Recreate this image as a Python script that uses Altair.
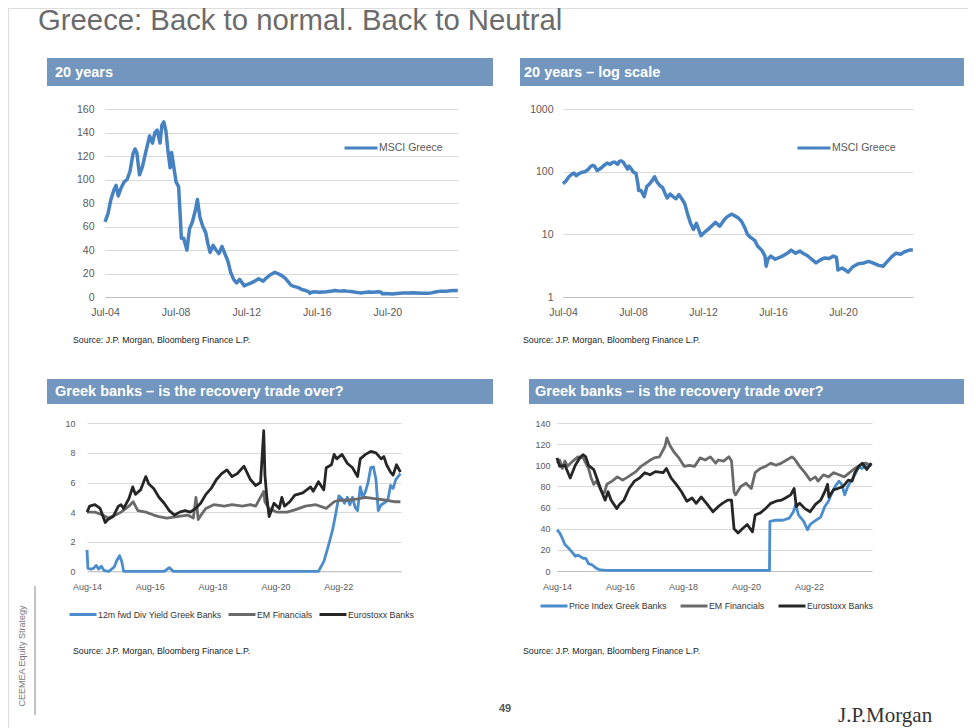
import altair as alt
import pandas as pd

# ---------------- data ----------------
msci_dates = [
    "2004-07-01", "2004-09-01", "2004-11-01", "2005-01-01", "2005-02-15", "2005-04-01", "2005-06-01",
    "2005-08-01", "2005-10-01", "2005-12-01", "2006-02-01", "2006-03-15", "2006-04-20", "2006-06-15",
    "2006-08-15", "2006-10-15", "2006-11-25", "2007-01-10", "2007-03-10", "2007-05-01", "2007-06-15",
    "2007-08-15", "2007-09-20", "2007-10-31", "2007-12-15", "2008-01-20", "2008-03-10", "2008-04-10",
    "2008-05-20", "2008-07-10", "2008-09-01", "2008-10-10", "2008-10-28", "2008-12-15", "2009-02-20",
    "2009-04-15", "2009-06-15", "2009-08-15", "2009-09-25", "2009-11-15", "2010-01-15", "2010-03-15",
    "2010-05-01", "2010-06-15", "2010-08-15", "2010-10-15", "2010-12-15", "2011-02-15", "2011-04-15",
    "2011-06-15", "2011-08-15", "2011-10-15", "2011-12-15", "2012-02-15", "2012-05-20", "2012-07-15",
    "2012-10-15", "2013-01-15", "2013-03-15", "2013-06-15", "2013-09-15", "2013-11-15", "2014-02-15",
    "2014-04-15", "2014-07-15", "2014-09-15", "2014-11-15", "2015-01-15", "2015-03-15", "2015-06-15",
    "2015-08-15", "2015-11-15", "2016-01-15", "2016-02-10", "2016-03-15", "2016-05-15", "2016-08-15",
    "2016-11-15", "2017-01-15", "2017-05-15", "2017-07-15", "2017-10-15", "2018-01-15", "2018-03-15",
    "2018-06-15", "2018-09-15", "2018-12-15", "2019-03-15", "2019-06-15", "2019-09-15", "2019-12-15",
    "2020-02-15", "2020-03-18", "2020-06-15", "2020-10-15", "2021-01-15", "2021-05-15", "2021-09-15",
    "2021-12-15", "2022-03-15", "2022-07-15", "2022-10-15", "2023-01-15", "2023-04-15", "2023-07-15",
    "2023-10-15", "2024-01-15", "2024-04-15", "2024-06-28",
]
msci_values = [
    64, 71, 83, 91, 95, 86, 93,
    98, 100, 107, 122, 126, 123, 104,
    111, 122, 129, 137, 131, 140, 142,
    131, 146, 149, 141, 126, 110, 123,
    112, 98, 94, 65, 50, 50, 40,
    58, 64, 74, 83, 68, 60, 55,
    45, 38, 44, 40, 37, 43, 37,
    31, 21, 15, 12, 15, 9.5, 10.5,
    12, 14, 15.5, 13.5, 17, 19, 21,
    20, 18, 16, 13, 10, 9, 8,
    6.5, 5.5, 4.5, 3.1, 4.0, 4.5, 4.0,
    4.3, 4.5, 5.1, 5.6, 5.0, 5.4, 5.0,
    4.6, 4.0, 3.5, 3.9, 4.2, 4.1, 4.5,
    4.3, 2.7, 2.9, 2.5, 3.0, 3.4, 3.5,
    3.7, 3.5, 3.2, 3.1, 3.7, 4.4, 5.0,
    4.8, 5.3, 5.6, 5.6,
]

# Greek banks - dividend yields
dy_greek_dates = [
    "2014-08-01", "2014-08-12", "2014-09-15", "2014-10-15", "2014-11-15", "2014-12-15", "2015-01-15",
    "2015-02-15", "2015-04-15", "2015-06-15", "2015-07-15", "2015-08-15", "2015-09-10", "2015-10-01",
    "2017-01-15", "2017-03-15", "2017-05-01", "2021-12-15", "2022-02-15", "2022-04-01", "2022-05-01",
    "2022-06-01", "2022-07-01", "2022-08-10", "2022-09-15", "2022-10-15", "2022-11-15", "2022-12-15",
    "2023-01-15", "2023-02-15", "2023-03-15", "2023-04-15", "2023-05-15", "2023-06-15", "2023-07-15",
    "2023-08-15", "2023-09-15", "2023-10-15", "2023-11-10", "2023-12-15", "2024-01-15", "2024-03-01",
    "2024-04-01", "2024-05-01", "2024-06-01", "2024-07-25",
]
dy_greek_values = [
    1.45, 0.2, 0.15, 0.2, 0.4, 0.15, 0.35,
    0.05, 0.0, 0.3, 0.75, 1.05, 0.65, 0.0,
    0.0, 0.25, 0.0, 0.0, 0.65, 1.55, 2.2,
    2.9, 3.8, 5.1, 4.9, 4.6, 5.0, 4.5,
    5.0, 4.3, 4.1, 5.7, 5.0, 5.4, 6.0,
    7.0, 7.05, 6.2, 4.1, 4.5, 4.6, 4.8,
    5.8, 5.6, 6.2, 6.6,
]
dy_em_dates = [
    "2014-08-01", "2014-11-01", "2015-02-01", "2015-04-01", "2015-07-01", "2015-09-01", "2015-12-01",
    "2016-01-20", "2016-03-15", "2016-06-15", "2016-09-15", "2016-11-15", "2017-02-15", "2017-06-15",
    "2017-10-15", "2017-12-20", "2018-01-20", "2018-02-15", "2018-04-01", "2018-05-15", "2018-08-15",
    "2018-12-15", "2019-03-15", "2019-07-15", "2019-10-15", "2019-12-15", "2020-03-18", "2020-04-01",
    "2020-05-15", "2020-08-15", "2020-12-15", "2021-03-15", "2021-07-15", "2021-11-15", "2022-03-15",
    "2022-06-15", "2022-08-15", "2022-11-15", "2023-03-15", "2023-06-15", "2023-10-15", "2024-02-15",
    "2024-05-15", "2024-07-25",
]
dy_em_values = [
    4.0, 4.0, 3.8, 3.6, 3.8, 4.0, 4.4,
    4.7, 4.1, 4.0, 3.8, 3.7, 3.6, 3.7,
    3.8, 3.6, 5.0, 3.5, 3.9, 4.25, 4.5,
    4.4, 4.5, 4.4, 4.5, 4.4, 5.4, 4.7,
    4.25, 4.0, 4.0, 4.15, 4.4, 4.5, 4.25,
    4.7, 4.8, 4.8, 4.9, 5.0, 4.9, 4.8,
    4.7, 4.7,
]
dy_euro_dates = [
    "2014-08-01", "2014-09-01", "2014-11-01", "2015-01-01", "2015-03-01", "2015-04-01", "2015-06-01",
    "2015-08-01", "2015-09-01", "2015-10-01", "2015-12-01", "2016-01-15", "2016-02-15", "2016-04-15",
    "2016-06-15", "2016-07-20", "2016-09-15", "2016-11-15", "2017-01-15", "2017-03-15", "2017-05-15",
    "2017-07-15", "2017-09-15", "2017-11-15", "2018-01-15", "2018-03-15", "2018-05-15", "2018-07-15",
    "2018-09-15", "2018-11-15", "2019-01-15", "2019-03-15", "2019-05-15", "2019-08-01", "2019-10-15",
    "2019-12-15", "2020-02-10", "2020-03-18", "2020-04-01", "2020-04-25", "2020-05-20", "2020-07-15",
    "2020-09-15", "2020-10-15", "2020-11-15", "2021-01-15", "2021-03-15", "2021-06-15", "2021-09-15",
    "2021-10-15", "2021-12-15", "2022-02-15", "2022-03-15", "2022-05-15", "2022-06-15", "2022-07-15",
    "2022-09-15", "2022-11-15", "2023-01-15", "2023-03-15", "2023-04-15", "2023-06-15", "2023-08-15",
    "2023-10-15", "2023-12-15", "2024-01-15", "2024-02-15", "2024-04-01", "2024-05-01", "2024-06-10",
    "2024-07-25",
]
dy_euro_values = [
    4.0, 4.4, 4.5, 4.25, 3.3, 3.5, 3.7,
    4.4, 4.5, 4.25, 4.9, 5.7, 5.2, 5.5,
    6.4, 5.9, 5.6, 5.0, 4.6, 4.1, 3.8,
    4.0, 4.1, 4.0, 4.25, 4.6, 5.2, 5.6,
    6.2, 6.6, 6.85, 6.4, 6.6, 7.1, 6.2,
    5.8, 6.0, 9.5, 6.5, 4.9, 3.7, 4.6,
    4.25, 5.0, 4.4, 4.7, 5.15, 5.3, 5.7,
    5.4, 6.05, 5.5, 7.0, 7.2, 7.9, 7.6,
    7.9, 7.3, 7.0, 6.4, 7.6, 7.9, 8.1,
    8.0, 7.6, 7.75, 7.2, 6.7, 6.5, 7.2,
    6.7,
]

# Greek banks - price indices
px_greek_dates = [
    "2014-08-01", "2014-09-01", "2014-10-01", "2014-11-01", "2014-12-20", "2015-02-01", "2015-03-01",
    "2015-04-01", "2015-06-01", "2015-07-01", "2015-08-01", "2015-09-15", "2015-11-01", "2015-12-15",
    "2016-03-01", "2018-06-01", "2021-04-30", "2021-05-05", "2021-07-01", "2021-10-01", "2021-12-15",
    "2022-02-01", "2022-03-01", "2022-04-01", "2022-06-01", "2022-07-15", "2022-08-15", "2022-10-01",
    "2022-12-15", "2023-02-01", "2023-03-15", "2023-04-15", "2023-06-01", "2023-07-15", "2023-08-15",
    "2023-09-20", "2023-10-25", "2023-12-01", "2024-01-15", "2024-03-01", "2024-04-01", "2024-05-15",
    "2024-07-25",
]
px_greek_values = [
    39, 36, 31, 25, 21, 17, 14,
    15, 12, 12, 7, 5.7, 2.5, 1.0,
    0.6, 0.5, 0.5, 47, 48, 48, 50,
    56, 63, 53, 47, 39, 44, 47,
    51, 61, 66, 72, 80, 85, 82,
    72, 80, 85, 91, 99, 97, 99,
    100,
]
px_em_dates = [
    "2014-08-01", "2014-09-01", "2014-10-01", "2014-11-01", "2014-12-01", "2015-02-01", "2015-04-01",
    "2015-06-01", "2015-08-01", "2015-09-01", "2015-10-01", "2015-11-01", "2016-01-01", "2016-02-01",
    "2016-03-01", "2016-05-01", "2016-07-01", "2016-09-01", "2016-11-01", "2017-02-01", "2017-04-01",
    "2017-07-01", "2017-09-01", "2017-11-01", "2018-01-05", "2018-01-26", "2018-03-01", "2018-04-15",
    "2018-06-15", "2018-08-15", "2018-10-15", "2018-12-15", "2019-02-15", "2019-04-15", "2019-06-15",
    "2019-08-15", "2019-09-15", "2019-11-15", "2020-01-15", "2020-02-15", "2020-03-15", "2020-04-01",
    "2020-06-01", "2020-08-01", "2020-10-01", "2020-11-15", "2021-01-15", "2021-03-15", "2021-05-15",
    "2021-07-15", "2021-09-15", "2021-11-15", "2022-01-15", "2022-02-15", "2022-04-15", "2022-06-15",
    "2022-08-15", "2022-10-15", "2022-11-15", "2023-01-15", "2023-03-15", "2023-05-15", "2023-07-15",
    "2023-09-15", "2023-11-15", "2024-01-15", "2024-03-15", "2024-05-15", "2024-07-25",
]
px_em_values = [
    102, 105, 97, 104, 99, 104, 108,
    107, 97, 88, 82, 85, 75, 74,
    82, 85, 89, 86, 89, 94, 99,
    104, 107, 108, 118, 126, 119, 113,
    107, 99, 100, 99, 107, 105, 108,
    102, 105, 104, 108, 104, 75, 72,
    80, 83, 78, 93, 97, 99, 102,
    100, 102, 105, 108, 106, 99, 93,
    86, 89, 85, 91, 89, 93, 91,
    89, 93, 97, 100, 102, 100,
]
px_euro_dates = [
    "2014-08-01", "2014-09-01", "2014-11-01", "2015-01-01", "2015-03-01", "2015-05-01", "2015-06-01",
    "2015-07-01", "2015-08-01", "2015-10-01", "2015-11-01", "2016-01-01", "2016-02-10", "2016-03-15",
    "2016-04-20", "2016-06-25", "2016-07-25", "2016-09-15", "2016-11-15", "2017-01-15", "2017-03-15",
    "2017-05-15", "2017-07-15", "2017-09-15", "2017-12-15", "2018-01-20", "2018-03-15", "2018-05-15",
    "2018-07-15", "2018-09-15", "2018-11-15", "2019-01-01", "2019-03-01", "2019-05-01", "2019-07-15",
    "2019-09-15", "2019-11-01", "2020-01-01", "2020-02-15", "2020-03-15", "2020-05-01", "2020-06-20",
    "2020-08-15", "2020-10-15", "2020-11-15", "2021-01-15", "2021-03-15", "2021-05-15", "2021-07-15",
    "2021-09-15", "2021-11-01", "2022-01-01", "2022-02-10", "2022-03-07", "2022-04-15", "2022-06-15",
    "2022-08-15", "2022-10-15", "2022-12-15", "2023-02-01", "2023-03-05", "2023-03-20", "2023-05-15",
    "2023-07-01", "2023-09-01", "2023-11-01", "2023-12-15", "2024-01-15", "2024-03-01", "2024-04-10",
    "2024-06-01", "2024-07-25",
]
px_euro_values = [
    107, 99, 100, 88, 100, 108, 110,
    108, 100, 96, 89, 75, 67, 75,
    67, 59, 63, 67, 78, 85, 88,
    93, 91, 94, 93, 97, 88, 82,
    75, 66, 69, 64, 70, 64, 56,
    61, 64, 67, 67, 40, 36, 40,
    44, 37, 53, 55, 59, 64, 66,
    67, 69, 72, 78, 61, 64, 59,
    56, 63, 67, 75, 82, 70, 77,
    78, 80, 86, 85, 93, 99, 102,
    96, 102,
]

# titles and texts
slide_title = "Greece: Back to normal. Back to Neutral"
panel_titles = ["20 years", "20 years \u2013 log scale",
                "Greek banks \u2013 is the recovery trade over?", "Greek banks \u2013 is the recovery trade over?"]
source_text = "Source: J.P. Morgan, Bloomberg Finance L.P."
series_msci = "MSCI Greece"
dy_series = ["12m fwd Div Yield Greek Banks", "EM Financials", "Eurostoxx Banks"]
px_series = ["Price Index Greek Banks", "EM Financials", "Eurostoxx Banks"]

# ---------------- styling ----------------
W, H = 960, 720
FONT = "Liberation Sans"
HEADER = "#7296be"
BLUE1 = "#4682c2"
BLUE2 = "#4a8ccc"
GRAY = "#6a6a6a"
BLACK = "#262626"
GRID = "#d9d9d9"
LABEL = "#595959"


def utc(y, m, d=1):
    return alt.DateTime(year=y, month=m, date=d, utc=True)


def df_of(dates, values, name):
    return pd.DataFrame({"date": dates, "value": values, "series": name})


msci_df = df_of(msci_dates, msci_values, series_msci)
dy_df = pd.concat([df_of(dy_greek_dates, dy_greek_values, dy_series[0]),
                   df_of(dy_em_dates, dy_em_values, dy_series[1]),
                   df_of(dy_euro_dates, dy_euro_values, dy_series[2])], ignore_index=True)
px_df = pd.concat([df_of(px_greek_dates, px_greek_values, px_series[0]),
                   df_of(px_em_dates, px_em_values, px_series[1]),
                   df_of(px_euro_dates, px_euro_values, px_series[2])], ignore_index=True)


def panel(df, x_dom, x_rng, x_ticks, y_scale, y_ticks, y_fmt, axis_y, axis_x, lab_size,
          y_pad, x_pad, colors, names, leg_x, leg_y, leg_size, leg_font, leg_color, leg_pad, stroke):
    return alt.Chart(df).mark_line(strokeWidth=stroke, strokeJoin="round").encode(
        x=alt.X("date:T",
                scale=alt.Scale(type="utc", domain=x_dom, range=x_rng, nice=False),
                axis=alt.Axis(values=x_ticks, format="%b-%y", orient="bottom", offset=axis_x - H,
                              title=None, grid=False, ticks=False, domain=True, domainColor="#bfbfbf",
                              domainWidth=1, labelFontSize=lab_size, labelColor=LABEL, labelFont=FONT,
                              labelPadding=x_pad, labelFlush=False, labelOverlap=False)),
        y=alt.Y("value:Q", scale=y_scale,
                axis=alt.Axis(values=y_ticks, format=y_fmt, orient="left", offset=-axis_y, title=None,
                              grid=True, gridColor=GRID, gridWidth=1, domain=False, ticks=False,
                              labelFontSize=lab_size, labelColor=LABEL, labelFont=FONT,
                              labelPadding=y_pad, labelOverlap=False)),
        color=alt.Color("series:N", sort=names,
                        scale=alt.Scale(domain=names, range=colors),
                        legend=alt.Legend(orient="none", legendX=leg_x, legendY=leg_y, direction="horizontal",
                                          title=None, symbolType="stroke", symbolSize=leg_size,
                                          symbolStrokeWidth=3, labelFont=FONT, labelFontSize=leg_font,
                                          labelColor=leg_color, labelOffset=0, columnPadding=leg_pad,
                                          padding=0, labelLimit=0)),
    )


x20_dom = [utc(2004, 7), utc(2024, 7)]
x20_ticks = [utc(2004, 7), utc(2008, 7), utc(2012, 7), utc(2016, 7), utc(2020, 7)]
x10_dom = [utc(2014, 8), utc(2024, 8)]
x10_ticks = [utc(2014, 8), utc(2016, 8), utc(2018, 8), utc(2020, 8), utc(2022, 8)]

c1 = panel(msci_df, x20_dom, [97, 450], x20_ticks,
           alt.Scale(domain=[0, 160], range=[289, 101], nice=False, zero=False),
           list(range(0, 161, 20)), "d", 97, 289, 10.5, 11, 10, [BLUE1], [series_msci],
           335, 122, 1089, 10.5, LABEL, 10, 3.5)
c2 = panel(msci_df, x20_dom, [555, 905], x20_ticks,
           alt.Scale(type="log", domain=[1, 1000], range=[289, 101], nice=False),
           [1, 10, 100, 1000], "d", 555, 289, 10.5, 10, 10, [BLUE1], [series_msci],
           788, 122, 1089, 10.5, LABEL, 10, 3.5)
c3 = panel(dy_df, x10_dom, [79, 393], x10_ticks,
           alt.Scale(domain=[0, 10], range=[563.3, 415.3], nice=False, zero=False),
           list(range(0, 11, 2)), "d", 79, 563.3, 9, 12, 11, [BLUE2, GRAY, BLACK], dy_series,
           60, 591.5, 729, 8.8, "#333333", 0, 2.8)
c4 = panel(px_df, x10_dom, [549, 864], x10_ticks,
           alt.Scale(domain=[0, 140], range=[563, 415], nice=False, zero=False),
           list(range(0, 141, 20)), "d", 549, 563, 9, 7, 11, [BLUE2, GRAY, BLACK], px_series,
           531, 583, 729, 8.8, "#333333", 7, 2.8)


def text(t, x, y, size, color="#222222", weight="normal", align="left", font=FONT, angle=0, baseline="middle"):
    kw = dict(text=t, fontSize=size, color=color, fontWeight=weight, align=align, font=font, baseline=baseline)
    if angle:
        kw["angle"] = angle
    return alt.Chart().mark_text(**kw).encode(x=alt.value(x), y=alt.value(y))


def rect(x, x2, y, y2, color):
    return alt.Chart().mark_rect(color=color).encode(
        x=alt.value(x), x2=alt.value(x2), y=alt.value(y), y2=alt.value(y2))


deco = [
    text(slide_title, 30, 21.5, 29.3, color="#6b6b6b", baseline="alphabetic"),
    rect(39, 485, 50, 78, HEADER), rect(512, 956, 50, 78, HEADER),
    rect(39, 485, 371, 396, HEADER), rect(521, 956, 371, 396, HEADER),
    text(panel_titles[0], 47, 65, 14.5, color="white", weight="bold"),
    text(panel_titles[1], 516, 65, 14.5, color="white", weight="bold"),
    text(panel_titles[2], 47, 384, 14.5, color="white", weight="bold"),
    text(panel_titles[3], 527, 384, 14.5, color="white", weight="bold"),
    text(source_text, 65, 332, 8.8), text(source_text, 515, 332, 8.8),
    text(source_text, 65, 643, 8.8), text(source_text, 515, 643, 8.8),
    text("CEEMEA Equity Strategy", 14, 648, 9, color="#777777", align="center", angle=270),
    alt.Chart().mark_rule(color="#888888", strokeWidth=1).encode(
        x=alt.value(27), y=alt.value(578), y2=alt.value(707)),
    text("49", 497, 701, 11, color="#555555", weight="bold", align="center"),
    text("J.P.Morgan", 830, 714, 21, color="#333333", font="Liberation Serif", baseline="alphabetic"),
]

chart = alt.layer(*deco, c1, c2, c3, c4).resolve_scale(
    x="independent", y="independent", color="independent"
).resolve_axis(x="independent", y="independent").resolve_legend(color="independent").properties(
    width=W, height=H, padding=0, autosize=alt.AutoSizeParams(type="none"), background="white"
).configure_view(strokeWidth=0).configure(font=FONT)

chart.save("out.html", embed_options={"renderer": "svg", "actions": False})
